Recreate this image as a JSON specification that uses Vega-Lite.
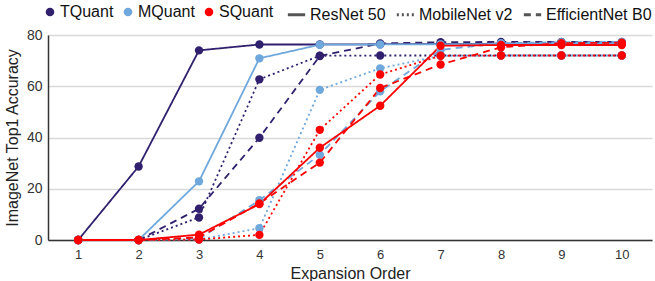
{
  "$schema": "https://vega.github.io/schema/vega-lite/v6.json",
  "width": 655,
  "height": 281,
  "autosize": {"type": "fit", "contains": "padding"},
  "padding": {"left": 4, "right": 3, "top": 4, "bottom": 0},
  "background": "white",
  "config": {
    "font": "Liberation Sans, Arial, sans-serif",
    "view": {"stroke": null},
    "legend": {"layout": {"top": {"anchor": "end", "direction": "horizontal", "margin": 12}}}
  },
  "data": {
    "values": [
      {"x": 1, "method": "TQuant", "model": "ResNet 50", "acc": 0},
      {"x": 2, "method": "TQuant", "model": "ResNet 50", "acc": 28.7},
      {"x": 3, "method": "TQuant", "model": "ResNet 50", "acc": 74},
      {"x": 4, "method": "TQuant", "model": "ResNet 50", "acc": 76.3},
      {"x": 5, "method": "TQuant", "model": "ResNet 50", "acc": 76.3},
      {"x": 6, "method": "TQuant", "model": "ResNet 50", "acc": 76.4},
      {"x": 7, "method": "TQuant", "model": "ResNet 50", "acc": 76.5},
      {"x": 8, "method": "TQuant", "model": "ResNet 50", "acc": 76.6},
      {"x": 9, "method": "TQuant", "model": "ResNet 50", "acc": 76.6},
      {"x": 10, "method": "TQuant", "model": "ResNet 50", "acc": 76.6},
      {"x": 1, "method": "TQuant", "model": "MobileNet v2", "acc": 0},
      {"x": 2, "method": "TQuant", "model": "MobileNet v2", "acc": 0},
      {"x": 3, "method": "TQuant", "model": "MobileNet v2", "acc": 8.8},
      {"x": 4, "method": "TQuant", "model": "MobileNet v2", "acc": 62.7},
      {"x": 5, "method": "TQuant", "model": "MobileNet v2", "acc": 71.9},
      {"x": 6, "method": "TQuant", "model": "MobileNet v2", "acc": 72},
      {"x": 7, "method": "TQuant", "model": "MobileNet v2", "acc": 72},
      {"x": 8, "method": "TQuant", "model": "MobileNet v2", "acc": 72},
      {"x": 9, "method": "TQuant", "model": "MobileNet v2", "acc": 72},
      {"x": 10, "method": "TQuant", "model": "MobileNet v2", "acc": 72},
      {"x": 1, "method": "TQuant", "model": "EfficientNet B0", "acc": 0},
      {"x": 2, "method": "TQuant", "model": "EfficientNet B0", "acc": 0},
      {"x": 3, "method": "TQuant", "model": "EfficientNet B0", "acc": 12.2},
      {"x": 4, "method": "TQuant", "model": "EfficientNet B0", "acc": 39.9},
      {"x": 5, "method": "TQuant", "model": "EfficientNet B0", "acc": 71.8},
      {"x": 6, "method": "TQuant", "model": "EfficientNet B0", "acc": 76.7},
      {"x": 7, "method": "TQuant", "model": "EfficientNet B0", "acc": 77.2},
      {"x": 8, "method": "TQuant", "model": "EfficientNet B0", "acc": 77.3},
      {"x": 9, "method": "TQuant", "model": "EfficientNet B0", "acc": 77.3},
      {"x": 10, "method": "TQuant", "model": "EfficientNet B0", "acc": 77.3},
      {"x": 1, "method": "MQuant", "model": "ResNet 50", "acc": 0},
      {"x": 2, "method": "MQuant", "model": "ResNet 50", "acc": 0},
      {"x": 3, "method": "MQuant", "model": "ResNet 50", "acc": 22.9},
      {"x": 4, "method": "MQuant", "model": "ResNet 50", "acc": 70.9},
      {"x": 5, "method": "MQuant", "model": "ResNet 50", "acc": 76.2},
      {"x": 6, "method": "MQuant", "model": "ResNet 50", "acc": 76.3},
      {"x": 7, "method": "MQuant", "model": "ResNet 50", "acc": 76.4},
      {"x": 8, "method": "MQuant", "model": "ResNet 50", "acc": 76.5},
      {"x": 9, "method": "MQuant", "model": "ResNet 50", "acc": 76.5},
      {"x": 10, "method": "MQuant", "model": "ResNet 50", "acc": 76.5},
      {"x": 1, "method": "MQuant", "model": "MobileNet v2", "acc": 0},
      {"x": 2, "method": "MQuant", "model": "MobileNet v2", "acc": 0},
      {"x": 3, "method": "MQuant", "model": "MobileNet v2", "acc": 0.2},
      {"x": 4, "method": "MQuant", "model": "MobileNet v2", "acc": 4.6},
      {"x": 5, "method": "MQuant", "model": "MobileNet v2", "acc": 58.6},
      {"x": 6, "method": "MQuant", "model": "MobileNet v2", "acc": 67},
      {"x": 7, "method": "MQuant", "model": "MobileNet v2", "acc": 71.9},
      {"x": 8, "method": "MQuant", "model": "MobileNet v2", "acc": 72},
      {"x": 9, "method": "MQuant", "model": "MobileNet v2", "acc": 72},
      {"x": 10, "method": "MQuant", "model": "MobileNet v2", "acc": 72},
      {"x": 1, "method": "MQuant", "model": "EfficientNet B0", "acc": 0},
      {"x": 2, "method": "MQuant", "model": "EfficientNet B0", "acc": 0},
      {"x": 3, "method": "MQuant", "model": "EfficientNet B0", "acc": 0.5},
      {"x": 4, "method": "MQuant", "model": "EfficientNet B0", "acc": 15.5},
      {"x": 5, "method": "MQuant", "model": "EfficientNet B0", "acc": 33.3},
      {"x": 6, "method": "MQuant", "model": "EfficientNet B0", "acc": 58},
      {"x": 7, "method": "MQuant", "model": "EfficientNet B0", "acc": 74.2},
      {"x": 8, "method": "MQuant", "model": "EfficientNet B0", "acc": 76.8},
      {"x": 9, "method": "MQuant", "model": "EfficientNet B0", "acc": 77.2},
      {"x": 10, "method": "MQuant", "model": "EfficientNet B0", "acc": 77.3},
      {"x": 1, "method": "SQuant", "model": "ResNet 50", "acc": 0},
      {"x": 2, "method": "SQuant", "model": "ResNet 50", "acc": 0},
      {"x": 3, "method": "SQuant", "model": "ResNet 50", "acc": 2.1},
      {"x": 4, "method": "SQuant", "model": "ResNet 50", "acc": 14},
      {"x": 5, "method": "SQuant", "model": "ResNet 50", "acc": 36},
      {"x": 6, "method": "SQuant", "model": "ResNet 50", "acc": 52.4},
      {"x": 7, "method": "SQuant", "model": "ResNet 50", "acc": 75.8},
      {"x": 8, "method": "SQuant", "model": "ResNet 50", "acc": 76.1},
      {"x": 9, "method": "SQuant", "model": "ResNet 50", "acc": 76.1},
      {"x": 10, "method": "SQuant", "model": "ResNet 50", "acc": 76.1},
      {"x": 1, "method": "SQuant", "model": "MobileNet v2", "acc": 0},
      {"x": 2, "method": "SQuant", "model": "MobileNet v2", "acc": 0},
      {"x": 3, "method": "SQuant", "model": "MobileNet v2", "acc": 0.2},
      {"x": 4, "method": "SQuant", "model": "MobileNet v2", "acc": 2},
      {"x": 5, "method": "SQuant", "model": "MobileNet v2", "acc": 43},
      {"x": 6, "method": "SQuant", "model": "MobileNet v2", "acc": 64.6},
      {"x": 7, "method": "SQuant", "model": "MobileNet v2", "acc": 71.9},
      {"x": 8, "method": "SQuant", "model": "MobileNet v2", "acc": 72},
      {"x": 9, "method": "SQuant", "model": "MobileNet v2", "acc": 72},
      {"x": 10, "method": "SQuant", "model": "MobileNet v2", "acc": 72},
      {"x": 1, "method": "SQuant", "model": "EfficientNet B0", "acc": 0},
      {"x": 2, "method": "SQuant", "model": "EfficientNet B0", "acc": 0},
      {"x": 3, "method": "SQuant", "model": "EfficientNet B0", "acc": 1},
      {"x": 4, "method": "SQuant", "model": "EfficientNet B0", "acc": 14.3},
      {"x": 5, "method": "SQuant", "model": "EfficientNet B0", "acc": 30.2},
      {"x": 6, "method": "SQuant", "model": "EfficientNet B0", "acc": 59.3},
      {"x": 7, "method": "SQuant", "model": "EfficientNet B0", "acc": 68.5},
      {"x": 8, "method": "SQuant", "model": "EfficientNet B0", "acc": 75.2},
      {"x": 9, "method": "SQuant", "model": "EfficientNet B0", "acc": 76.8},
      {"x": 10, "method": "SQuant", "model": "EfficientNet B0", "acc": 77}
    ]
  },
  "encoding": {
    "x": {
      "field": "x", "type": "ordinal",
      "scale": {"type": "point", "padding": 0.5},
      "axis": {"title": "Expansion Order", "titleFontSize": 16, "titleFontWeight": "normal", "titleColor": "#222", "titlePadding": 4,
               "labelAngle": 0, "labelFontSize": 13, "labelColor": "#333", "labelPadding": 8,
               "ticks": false, "grid": false, "domainColor": "#333", "domainWidth": 1.5}
    },
    "y": {
      "field": "acc", "type": "quantitative",
      "scale": {"domain": [0, 80], "nice": false},
      "axis": {"title": "ImageNet Top1 Accuracy", "titleFontSize": 16, "titleFontWeight": "normal", "titleColor": "#222", "titlePadding": 6,
               "values": [0, 20, 40, 60, 80], "labelFontSize": 14, "labelColor": "#333", "labelPadding": 6,
               "ticks": false, "grid": true, "gridColor": "#d9d9d9", "gridWidth": 1.5, "domainColor": "#333", "domainWidth": 1.5}
    },
    "color": {
      "field": "method", "type": "nominal",
      "scale": {"domain": ["TQuant", "MQuant", "SQuant"], "range": ["#30206e", "#6fa8dc", "#ff0000"]},
      "legend": {"title": null, "orient": "top", "offset": 12, "symbolType": "circle", "symbolSize": 50, "labelFontSize": 16, "labelColor": "#111", "columnPadding": 6, "labelOffset": 2}
    }
  },
  "layer": [
    {
      "mark": {"type": "line", "strokeWidth": 1.8},
      "encoding": {
        "detail": {"field": "model"},
        "strokeDash": {
          "field": "model", "type": "nominal",
          "scale": {"domain": ["ResNet 50", "MobileNet v2", "EfficientNet B0"], "range": [[1, 0], [2, 3], [7, 5]]},
          "legend": {"title": null, "orient": "top", "offset": 12, "symbolType": "stroke", "symbolStrokeColor": "#555", "symbolStrokeWidth": 3, "symbolSize": 300, "labelFontSize": 16, "labelColor": "#111", "columnPadding": 4, "labelOffset": 3}
        }
      }
    },
    {
      "mark": {"type": "point", "filled": true, "opacity": 1, "size": 70},
      "encoding": {"detail": {"field": "model"}}
    }
  ]
}
